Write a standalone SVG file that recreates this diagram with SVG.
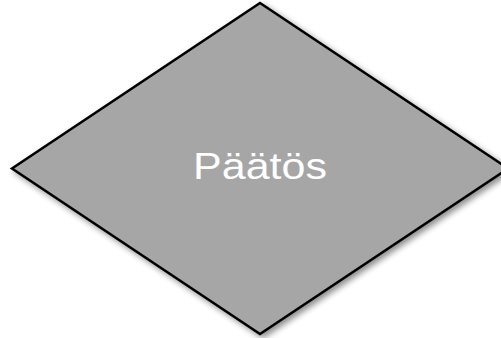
<svg xmlns="http://www.w3.org/2000/svg" width="501" height="338" viewBox="0 0 501 338">
<defs>
<filter id="sh" x="-10%" y="-10%" width="130%" height="130%">
<feGaussianBlur in="SourceAlpha" stdDeviation="3"/>
<feOffset dx="3" dy="3" result="b"/>
<feComponentTransfer><feFuncA type="linear" slope="0.45"/></feComponentTransfer>
<feMerge><feMergeNode/><feMergeNode in="SourceGraphic"/></feMerge>
</filter>
<style>
.d{fill:#a6a6a6;stroke:#000;stroke-width:2.5;stroke-linejoin:miter}
.t{font-family:"Liberation Sans",Arial,sans-serif;font-size:36px;fill:#fff;text-anchor:middle}
</style>
</defs>
<rect width="501" height="338" fill="#fff"/>
<g id="decision">
<polygon class="d" filter="url(#sh)" points="260,3 508,168.5 260,334 12,168.5"/>
<text class="t" x="260" y="178.5" textLength="134" lengthAdjust="spacingAndGlyphs">Päätös</text>
</g>
<g id="connectors"/>
</svg>
